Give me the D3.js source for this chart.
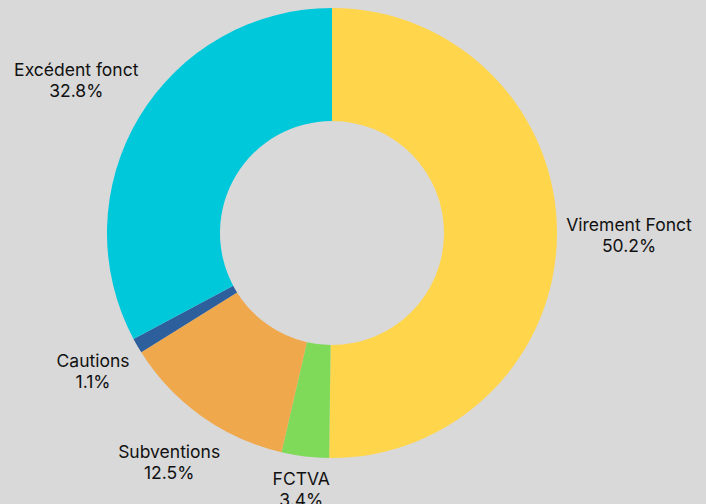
<!DOCTYPE html>
<html><head><meta charset="utf-8">
<script src="https://cdn.jsdelivr.net/npm/d3@7/dist/d3.min.js"></script>
<style>html,body{margin:0;padding:0;background:#d9d9d9;}svg{display:block;}</style>
</head><body>
<svg id="c" width="706" height="504"></svg>
<script>
const categories = ["Virement Fonct", "FCTVA", "Subventions", "Cautions", "Excédent fonct"];
const values = [50.2, 3.4, 12.5, 1.1, 32.8];
const colors = ["#FFD54C", "#7FDA59", "#EFA84B", "#2E5F9D", "#00C8DB"];

const W = 706, H = 504, cx = 332, cy = 233, R = 225, r = 112, pad = 9;
const fontSize = 17.5, lineH = 21;
const svg = d3.select("#c");
svg.append("rect").attr("width", W).attr("height", H).attr("fill", "#d9d9d9");
const data = categories.map((c, i) => ({cat: c, val: values[i], col: colors[i]}));
const pie = d3.pie().value(d => d.val).sort(null);
const arcs = pie(data);
const arc = d3.arc().innerRadius(r).outerRadius(R);
const g = svg.append("g").attr("transform", `translate(${cx},${cy})`);
g.selectAll("path").data(arcs).join("path").attr("d", arc).attr("fill", d => d.data.col);

const fmt = d3.format(".1f");
const lg = g.append("g").attr("font-family", "Inter, 'Noto Sans', sans-serif").attr("font-size", fontSize).attr("fill", "#111");
arcs.forEach(a => {
  const m = (a.startAngle + a.endAngle) / 2;
  const dx = Math.sin(m), dy = -Math.cos(m);
  const t = lg.append("text").attr("text-anchor", "middle");
  t.append("tspan").attr("x", 0).attr("dy", 0).text(a.data.cat);
  t.append("tspan").attr("x", 0).attr("dy", lineH).text(fmt(a.data.val) + "%");
  const bb = t.node().getBBox();
  const hw = bb.width / 2, hh = bb.height / 2;
  const dist = R + pad + hw * Math.abs(dx) + hh * Math.abs(dy);
  const px = dx * dist, py = dy * dist;
  const bcy = bb.y + bb.height / 2;
  t.attr("transform", `translate(${px},${py - bcy})`);
});
</script>
</body></html>
